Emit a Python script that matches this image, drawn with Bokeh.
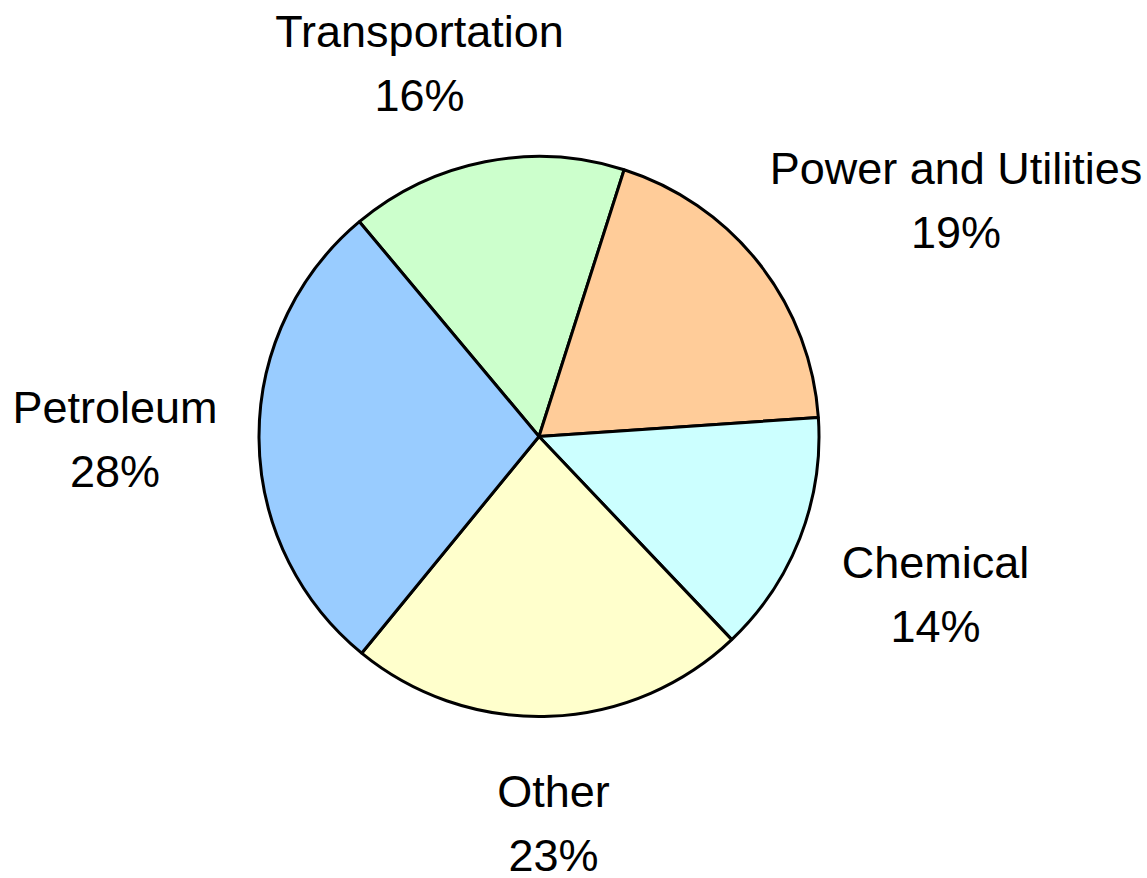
import numpy as np
from bokeh.plotting import figure
from bokeh.models import ColumnDataSource, Range1d
from bokeh.core.properties import value
from bokeh.embed import file_html
from bokeh.resources import INLINE

# Share of total by sector (percent), listed clockwise from the top-left slice
sectors = ["Transportation", "Power and Utilities", "Chemical", "Other", "Petroleum"]
shares = [16, 19, 14, 23, 28]
colors = ["#CCFFCC", "#FFCC99", "#CCFFFF", "#FFFFCC", "#99CCFF"]

# Page layout (pixels, y measured downward from the top of the page)
W, H = 1147, 878
center_px = (538.5, 436)
radius = 280
first_edge_deg = 129.9          # math angle of the first slice's leading edge
label_x_px = [419, 955.5, 935, 553, 114.5]
label_base_px = [31, 168, 562, 791, 407]
line_gap = 64

frac = np.array(shares, dtype=float) / sum(shares)
ends_cum = np.cumsum(frac)
starts_cum = ends_cum - frac
a0 = np.radians(first_edge_deg)
start_angle = a0 - 2 * np.pi * starts_cum
end_angle = a0 - 2 * np.pi * ends_cum

cx, cy = center_px[0], H - center_px[1]

pie = ColumnDataSource(dict(
    sector=sectors, share=shares, color=colors,
    start=start_angle, end=end_angle,
))

p = figure(width=W, height=H, x_range=Range1d(0, W), y_range=Range1d(0, H),
           output_backend="svg", toolbar_location=None, min_border=0)
p.axis.visible = False
p.grid.visible = False
p.outline_line_color = None
p.background_fill_color = "white"
p.border_fill_color = "white"

p.wedge(x=cx, y=cy, radius=radius, start_angle="start", end_angle="end",
        direction="clock", fill_color="color", line_color="black",
        line_width=3, source=pie)

labels = ColumnDataSource(dict(
    x=label_x_px,
    y_name=[H - b for b in label_base_px],
    y_pct=[H - b - line_gap for b in label_base_px],
    name=sectors,
    pct=[f"{s}%" for s in shares],
))

for ycol, tcol in (("y_name", "name"), ("y_pct", "pct")):
    p.text(x="x", y=ycol, text=tcol, source=labels,
           text_align="center", text_baseline="alphabetic",
           text_font=value("Liberation Sans"), text_font_size="45px",
           text_color="black")

open("out.html", "w").write(file_html(p, INLINE))
